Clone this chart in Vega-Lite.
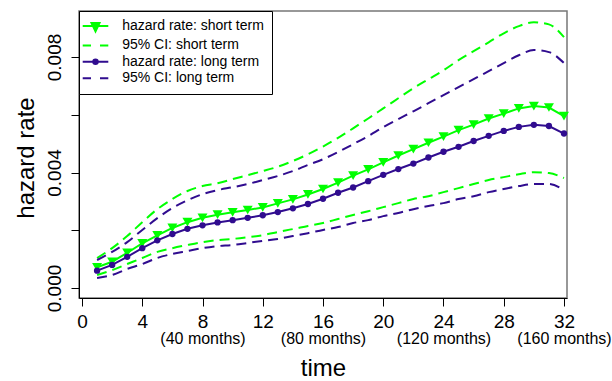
{
  "$schema": "https://vega.github.io/schema/vega-lite/v6.json",
  "width": 488,
  "height": 287,
  "autosize": {"type": "none"},
  "padding": {"left": 79, "top": 11, "right": 45, "bottom": 83},
  "background": "white",
  "config": {"font": "Liberation Sans", "view": {"stroke": "#777777", "strokeWidth": 1.5}},
  "data": {"values": [
    {"t": 1, "hs": 0.00072, "hsl": 0.00045, "hsu": 0.00104, "hl": 0.00060, "hll": 0.00035, "hlu": 0.00097},
    {"t": 2, "hs": 0.00091, "hsl": 0.00062, "hsu": 0.00138, "hl": 0.00080, "hll": 0.00045, "hlu": 0.00125},
    {"t": 3, "hs": 0.00122, "hsl": 0.00083, "hsu": 0.00180, "hl": 0.00108, "hll": 0.00066, "hlu": 0.00159},
    {"t": 4, "hs": 0.00155, "hsl": 0.00104, "hsu": 0.00228, "hl": 0.00138, "hll": 0.00083, "hlu": 0.00201},
    {"t": 5, "hs": 0.00182, "hsl": 0.00125, "hsu": 0.00273, "hl": 0.00165, "hll": 0.00104, "hlu": 0.00242},
    {"t": 6, "hs": 0.00208, "hsl": 0.00138, "hsu": 0.00308, "hl": 0.00187, "hll": 0.00118, "hlu": 0.00277},
    {"t": 7, "hs": 0.00228, "hsl": 0.00149, "hsu": 0.00336, "hl": 0.00205, "hll": 0.00128, "hlu": 0.00304},
    {"t": 8, "hs": 0.00243, "hsl": 0.00159, "hsu": 0.00353, "hl": 0.00217, "hll": 0.00138, "hlu": 0.00325},
    {"t": 9, "hs": 0.00254, "hsl": 0.00166, "hsu": 0.00363, "hl": 0.00227, "hll": 0.00145, "hlu": 0.00339},
    {"t": 10, "hs": 0.00262, "hsl": 0.00170, "hsu": 0.00377, "hl": 0.00235, "hll": 0.00149, "hlu": 0.00349},
    {"t": 11, "hs": 0.00270, "hsl": 0.00176, "hsu": 0.00391, "hl": 0.00243, "hll": 0.00156, "hlu": 0.00360},
    {"t": 12, "hs": 0.00279, "hsl": 0.00183, "hsu": 0.00405, "hl": 0.00252, "hll": 0.00163, "hlu": 0.00374},
    {"t": 13, "hs": 0.00293, "hsl": 0.00194, "hsu": 0.00420, "hl": 0.00263, "hll": 0.00170, "hlu": 0.00388},
    {"t": 14, "hs": 0.00307, "hsl": 0.00204, "hsu": 0.00440, "hl": 0.00276, "hll": 0.00180, "hlu": 0.00405},
    {"t": 15, "hs": 0.00324, "hsl": 0.00215, "hsu": 0.00463, "hl": 0.00291, "hll": 0.00190, "hlu": 0.00426},
    {"t": 16, "hs": 0.00343, "hsl": 0.00225, "hsu": 0.00490, "hl": 0.00309, "hll": 0.00201, "hlu": 0.00446},
    {"t": 17, "hs": 0.00365, "hsl": 0.00239, "hsu": 0.00520, "hl": 0.00330, "hll": 0.00211, "hlu": 0.00471},
    {"t": 18, "hs": 0.00389, "hsl": 0.00253, "hsu": 0.00553, "hl": 0.00348, "hll": 0.00225, "hlu": 0.00498},
    {"t": 19, "hs": 0.00411, "hsl": 0.00266, "hsu": 0.00587, "hl": 0.00370, "hll": 0.00235, "hlu": 0.00526},
    {"t": 20, "hs": 0.00435, "hsl": 0.00280, "hsu": 0.00622, "hl": 0.00392, "hll": 0.00249, "hlu": 0.00557},
    {"t": 21, "hs": 0.00459, "hsl": 0.00294, "hsu": 0.00657, "hl": 0.00412, "hll": 0.00260, "hlu": 0.00585},
    {"t": 22, "hs": 0.00481, "hsl": 0.00308, "hsu": 0.00692, "hl": 0.00431, "hll": 0.00273, "hlu": 0.00612},
    {"t": 23, "hs": 0.00503, "hsl": 0.00318, "hsu": 0.00723, "hl": 0.00452, "hll": 0.00284, "hlu": 0.00640},
    {"t": 24, "hs": 0.00524, "hsl": 0.00332, "hsu": 0.00754, "hl": 0.00472, "hll": 0.00294, "hlu": 0.00668},
    {"t": 25, "hs": 0.00547, "hsl": 0.00346, "hsu": 0.00789, "hl": 0.00489, "hll": 0.00308, "hlu": 0.00696},
    {"t": 26, "hs": 0.00566, "hsl": 0.00360, "hsu": 0.00820, "hl": 0.00509, "hll": 0.00318, "hlu": 0.00723},
    {"t": 27, "hs": 0.00587, "hsl": 0.00374, "hsu": 0.00851, "hl": 0.00527, "hll": 0.00332, "hlu": 0.00751},
    {"t": 28, "hs": 0.00604, "hsl": 0.00384, "hsu": 0.00882, "hl": 0.00544, "hll": 0.00343, "hlu": 0.00779},
    {"t": 29, "hs": 0.00622, "hsl": 0.00394, "hsu": 0.00907, "hl": 0.00558, "hll": 0.00353, "hlu": 0.00806},
    {"t": 30, "hs": 0.00630, "hsl": 0.00401, "hsu": 0.00920, "hl": 0.00565, "hll": 0.00360, "hlu": 0.00824},
    {"t": 31, "hs": 0.00625, "hsl": 0.00398, "hsu": 0.00913, "hl": 0.00561, "hll": 0.00360, "hlu": 0.00817},
    {"t": 32, "hs": 0.00595, "hsl": 0.00381, "hsu": 0.00869, "hl": 0.00535, "hll": 0.00339, "hlu": 0.00779}
  ]},
  "layer": [
    {
      "transform": [
        {"fold": ["hsl", "hsu", "hll", "hlu"], "as": ["k", "v"]}
      ],
      "mark": {"type": "line", "strokeWidth": 2, "interpolate": "monotone", "strokeDash": [10, 6]},
      "encoding": {
        "x": {"field": "t", "type": "quantitative",
          "scale": {"domain": [-0.2, 32.2], "nice": false, "zero": false},
          "axis": {"orient": "bottom", "values": [0, 4, 8, 12, 16, 20, 24, 28, 32], "format": "d", "title": null, "grid": false,
            "tickSize": 8, "tickColor": "black", "domainColor": "black", "labelColor": "black",
            "labelFontSize": 19, "labelBaseline": "alphabetic", "labelPadding": 21,
            "labelFlush": false, "labelOverlap": false}},
        "y": {"field": "v", "type": "quantitative",
          "scale": {"domain": [-0.000346, 0.009593], "nice": false, "zero": false},
          "axis": {"orient": "left", "values": [0, 0.002, 0.004, 0.006, 0.008], "format": ".3f",
            "labelExpr": "round(datum.value*1000) % 4 == 0 ? datum.label : ''",
            "grid": false, "tickSize": 8, "tickColor": "black", "domainColor": "black", "labelColor": "black",
            "labelAngle": -90, "labelAlign": "center", "labelBaseline": "alphabetic", "labelPadding": 11,
            "labelFontSize": 19, "labelOverlap": false, "labelFlush": false,
            "title": "hazard rate", "titleFontSize": 24, "titleFontWeight": "normal", "titleColor": "black",
            "titleAngle": -90, "titleX": -46, "titleY": 146.5, "titleAlign": "center", "titleBaseline": "alphabetic"}},
        "color": {"field": "k", "type": "nominal",
          "scale": {"domain": ["hsl", "hsu", "hll", "hlu"], "range": ["#00ff00", "#00ff00", "#300c8f", "#300c8f"]},
          "legend": null}
      }
    },
    {
      "transform": [
        {"fold": ["hs", "hl"], "as": ["k", "v"]}
      ],
      "mark": {"type": "line", "strokeWidth": 2},
      "encoding": {
        "x": {"field": "t", "type": "quantitative",
          "scale": {"domain": [-0.2, 32.2], "nice": false, "zero": false},
          "axis": {"orient": "bottom", "values": [8, 16, 24, 32], "labelExpr": "'(' + datum.value * 5 + ' months)'",
            "ticks": false, "tickSize": 0, "domain": false, "grid": false,
            "labelFontSize": 16, "labelColor": "black", "labelBaseline": "alphabetic", "labelPadding": 45,
            "labelFlush": false, "labelOverlap": false,
            "title": "time", "titleFontSize": 24, "titleFontWeight": "normal", "titleColor": "black",
            "titleY": 77, "titleBaseline": "alphabetic"}},
        "y": {"field": "v", "type": "quantitative", "axis": null},
        "color": {"field": "k", "type": "nominal",
          "scale": {"domain": ["hs", "hl"], "range": ["#00ff00", "#300c8f"]},
          "legend": null}
      }
    },
    {
      "transform": [
        {"fold": ["hs", "hl"], "as": ["k", "v"]}
      ],
      "mark": {"type": "point", "filled": true, "opacity": 1},
      "encoding": {
        "x": {"field": "t", "type": "quantitative", "axis": null},
        "y": {"field": "v", "type": "quantitative", "axis": null},
        "color": {"field": "k", "type": "nominal",
          "scale": {"domain": ["hs", "hl"], "range": ["#00ff00", "#300c8f"]},
          "legend": null},
        "shape": {"field": "k", "type": "nominal",
          "scale": {"domain": ["hs", "hl"], "range": ["triangle-down", "circle"]},
          "legend": null},
        "size": {"field": "k", "type": "nominal",
          "scale": {"domain": ["hs", "hl"], "range": [100, 40]},
          "legend": null}
      }
    },
    {
      "data": {"values": [
        {"entry": "hazard rate: short term"},
        {"entry": "95% CI: short term"},
        {"entry": "hazard rate: long term"},
        {"entry": "95% CI: long term"}
      ]},
      "mark": {"type": "point", "opacity": 0},
      "encoding": {
        "fill": {"field": "entry", "type": "nominal",
          "scale": {"domain": ["hazard rate: short term", "95% CI: short term", "hazard rate: long term", "95% CI: long term"],
            "range": ["#00ff00", "#00ff00", "#300c8f", "#300c8f"]},
          "legend": {"title": null, "orient": "top-left", "offset": 0, "padding": 8,
            "strokeColor": "black", "fillColor": "white",
            "symbolSize": 100, "symbolStrokeWidth": 2, "symbolOffset": 1.5, "symbolOpacity": 1,
            "labelOffset": 19.7, "labelFontSize": 14, "labelColor": "black", "rowPadding": 2.4, "labelLimit": 300}},
        "stroke": {"field": "entry", "type": "nominal",
          "scale": {"domain": ["hazard rate: short term", "95% CI: short term", "hazard rate: long term", "95% CI: long term"],
            "range": ["#00ff00", "#00ff00", "#300c8f", "#300c8f"]},
          "legend": {"title": null, "orient": "top-left", "offset": 0, "padding": 8,
            "strokeColor": "black", "fillColor": "white",
            "symbolSize": 100, "symbolStrokeWidth": 2, "symbolOffset": 1.5, "symbolOpacity": 1,
            "labelOffset": 19.7, "labelFontSize": 14, "labelColor": "black", "rowPadding": 2.4, "labelLimit": 300}},
        "shape": {"field": "entry", "type": "nominal",
          "scale": {"domain": ["hazard rate: short term", "95% CI: short term", "hazard rate: long term", "95% CI: long term"],
            "range": [
              "M-2.56,0H2.56M-0.8,-0.6L0.8,-0.6L0,1.1Z",
              "M-2.56,0H-0.9M0.9,0H2.56",
              "M-2.56,0H2.56M-0.45,0A0.45,0.45 0 1 0 0.45,0A0.45,0.45 0 1 0 -0.45,0Z",
              "M-2.56,0H-0.9M0.9,0H2.56"
            ]},
          "legend": {"title": null, "orient": "top-left", "offset": 0, "padding": 8,
            "strokeColor": "black", "fillColor": "white",
            "symbolSize": 100, "symbolStrokeWidth": 2, "symbolOffset": 1.5, "symbolOpacity": 1,
            "labelOffset": 19.7, "labelFontSize": 14, "labelColor": "black", "rowPadding": 2.4, "labelLimit": 300}}
      }
    }
  ],
  "resolve": {
    "scale": {"color": "independent", "shape": "independent", "size": "independent", "fill": "independent", "stroke": "independent"},
    "axis": {"x": "independent", "y": "independent"}
  }
}
